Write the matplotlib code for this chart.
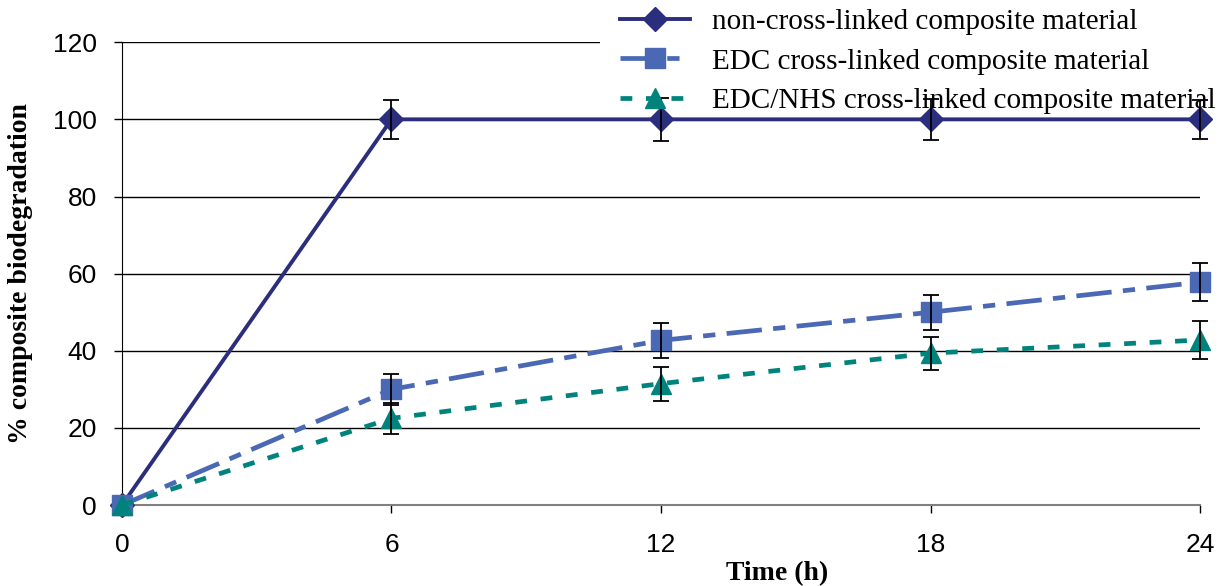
import matplotlib
matplotlib.use("Agg")
import matplotlib.pyplot as plt
from matplotlib.patches import Rectangle

time_h = [0, 6, 12, 18, 24]
non_cross = [0, 100, 100, 100, 100]
non_cross_err = [0, 5, 5.5, 5.3, 5]
edc = [0, 30, 42.7, 50, 57.8]
edc_err = [0, 4, 4.5, 4.5, 5]
edc_nhs = [0, 22.5, 31.5, 39.4, 42.8]
edc_nhs_err = [0, 4, 4.4, 4.3, 5]

labels = ["non-cross-linked composite material",
          "EDC cross-linked composite material",
          "EDC/NHS cross-linked composite material"]
x_ticks = [0, 6, 12, 18, 24]
y_ticks = [0, 20, 40, 60, 80, 100, 120]

navy = "#2B2E7D"
blue = "#4A68B3"
teal = "#00837C"

fig = plt.figure(figsize=(12.28, 5.86), dpi=100)
ax = fig.add_axes([0.0993, 0.138, 0.878, 0.79])

l1, = ax.plot(time_h, non_cross, color=navy, lw=2.8, marker="D", markersize=12,
              label=labels[0], zorder=3, clip_on=False)
l2, = ax.plot(time_h, edc, color=blue, lw=3.4, marker="s", markersize=15,
              label=labels[1], zorder=3, clip_on=False)
l2.set_dashes((7.5, 2.4, 2.6, 2.4))
l3, = ax.plot(time_h, edc_nhs, color=teal, lw=3.4, marker="^", markersize=15,
              label=labels[2], zorder=3, clip_on=False)
l3.set_dashes((2.5, 2.9))

for y, e in [(non_cross, non_cross_err), (edc, edc_err), (edc_nhs, edc_nhs_err)]:
    ax.errorbar(time_h[1:], y[1:], yerr=e[1:], fmt="none", ecolor="black",
                elinewidth=1.3, capsize=5.5, capthick=1.3, zorder=4, clip_on=False)

ax.set_xlim(0, 24)
ax.set_ylim(0, 120)
ax.set_xticks(x_ticks)
ax.set_yticks(y_ticks)
ax.yaxis.grid(True, color="black", lw=1.0)
ax.set_axisbelow(True)
for s in ["top", "right"]:
    ax.spines[s].set_visible(False)
ax.spines["left"].set_color("black")
ax.spines["bottom"].set_color("#808080")
ax.spines["bottom"].set_linewidth(1.5)
ax.tick_params(axis="both", labelsize=19, direction="out", length=6, width=1)
ax.tick_params(axis="x", pad=14)
ax.tick_params(axis="y", pad=12)
for t in ax.get_xticklabels() + ax.get_yticklabels():
    t.set_fontfamily("Liberation Sans")

ax.set_xlabel("Time (h)", fontsize=20, fontweight="bold", family="Liberation Serif",
              va="center")
ax.xaxis.set_label_coords(0.608, -0.147)
ax.set_ylabel("% composite biodegradation", fontsize=20, fontweight="bold",
              family="Liberation Serif", labelpad=14)

# white backing of the legend area (hides the top gridline there)
fig.patches.append(Rectangle((0.489, 0.9), 0.52, 0.11, transform=fig.transFigure,
                             facecolor="white", edgecolor="none", zorder=1))

leg = fig.legend(handles=[l1, l2, l3], loc="upper left", bbox_to_anchor=(0.4976, 1.0),
                 frameon=False, prop={"family": "Liberation Serif", "size": 21},
                 handlelength=2.4, labelspacing=0.45, handletextpad=0.75,
                 borderpad=0.3, borderaxespad=0)
leg.set_zorder(10)

fig.savefig("out.png", dpi=100)
